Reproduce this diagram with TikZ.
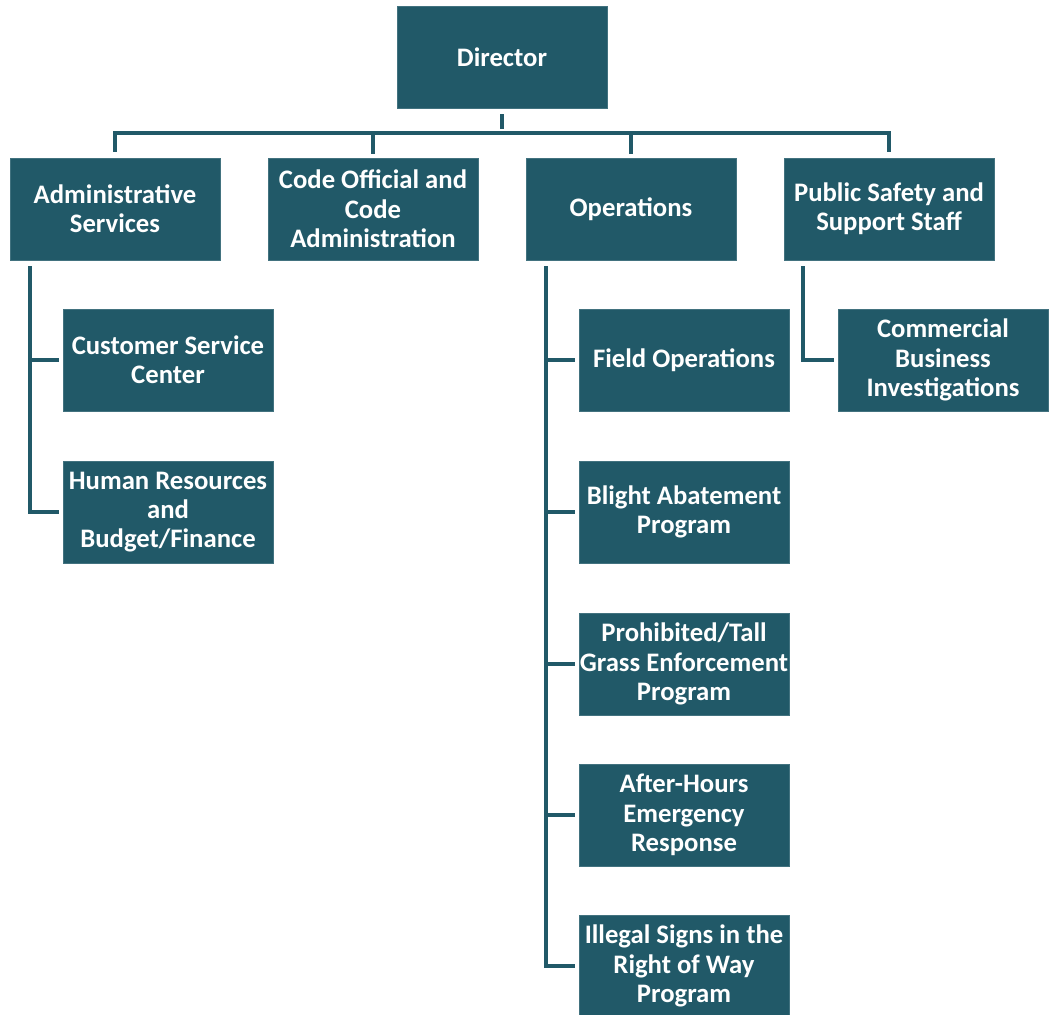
\documentclass[tikz,border=0pt]{standalone}
\usepackage{fontspec}
\setmainfont{Carlito}
\usetikzlibrary{calc}
\definecolor{orgteal}{HTML}{215968}

\begin{document}
\begin{tikzpicture}[x=0.02cm, y=-0.02cm,
		unit/.style={fill=orgteal, draw=orgteal!85!white, line width=0.4pt, text=white, align=center,
			minimum width=4.2cm, minimum height=2.04cm, inner sep=0pt,
			font=\fontsize{15.2}{16.7}\selectfont\bfseries},
		link/.style={draw=orgteal, line width=1.8pt, shorten <=3.5pt, shorten >=2pt}]
			%%%%% START %%%%%
			
			\useasboundingbox (0, 0) rectangle (1049, 1015);
			
			\node[unit] (dir) at (502, 57) {Director};
			
			\node[unit] (admin) at (115, 209) {Administrative\\Services};
			\node[unit] (code) at (373, 209) {Code Official and\\Code\\Administration};
			\node[unit] (ops) at (631, 209) {Operations};
			\node[unit] (pubsafe) at (889, 209) {Public Safety and\\Support Staff};
			
			\node[unit] (custsvc) at (168, 360) {Customer Service\\Center};
			\node[unit] (hrbudget) at (168, 512) {Human Resources\\and\\Budget/Finance};
			
			\node[unit] (fieldops) at (684, 360) {Field Operations};
			\node[unit] (blight) at (684, 512) {Blight Abatement\\Program};
			\node[unit] (tallgrass) at (684, 664) {Prohibited/Tall\\Grass Enforcement\\Program};
			\node[unit] (afterhrs) at (684, 815) {After-Hours\\Emergency\\Response};
			\node[unit] (signs) at (684, 966) {Illegal Signs in the\\Right of Way\\Program};
			
			\node[unit] (commbiz) at (943, 360) {Commercial\\Business\\Investigations};
			
			\coordinate (bus) at (0, 133);
			\coordinate (trunkA) at (30, 0);
			\coordinate (trunkO) at (546, 0);
			\coordinate (trunkP) at (803, 0);
			
			\draw[link] (dir.south) -- (dir.south |- bus);
			\draw[link, shorten >=3.5pt] (admin.north) -- (admin.north |- bus) -- (pubsafe.north |- bus) -- (pubsafe.north);
			\draw[link, shorten <=0pt] (code.north |- bus) -- (code.north);
			\draw[link, shorten <=0pt] (ops.north |- bus) -- (ops.north);
			
			\draw[link] (admin.south -| trunkA) |- (custsvc.west);
			\draw[link] (admin.south -| trunkA) |- (hrbudget.west);
			
			\foreach \sub in {fieldops, blight, tallgrass, afterhrs, signs}
				\draw[link] (ops.south -| trunkO) |- (\sub.west);
			
			\draw[link] (pubsafe.south -| trunkP) |- (commbiz.west);
			
			%%%%% END %%%%%
		\end{tikzpicture}
\end{document}
